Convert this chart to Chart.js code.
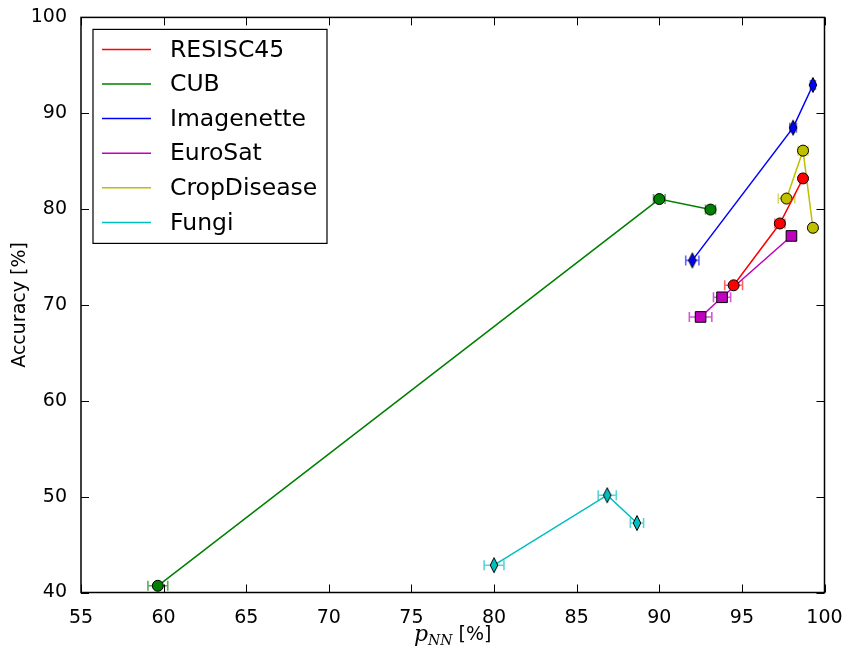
<!DOCTYPE html>
<html lang="en">
<head>
<meta charset="UTF-8">
<title>Accuracy vs pNN</title>
<script src="https://cdn.jsdelivr.net/npm/chart.js"></script>
<style>
    html, body { margin: 0; padding: 0; background: #fff; }
    #wrap { width: 849px; height: 653px; }
</style>
</head>
<body>
<div id="wrap"><canvas id="chart" width="849" height="653"></canvas></div>
<script>
// values: x = pNN [%], y = accuracy [%], xerr = half width of error bar
const resiscX = [94.5, 97.3, 98.7];
const resiscY = [72.05, 78.5, 83.2];
const resiscErr = [0.54, 0.3, 0.2];

const cubX = [59.65, 90.0, 93.1];
const cubY = [40.7, 81.05, 79.95];
const cubErr = [0.6, 0.35, 0.3];

const imagenetteX = [92.0, 98.1, 99.3];
const imagenetteY = [74.65, 88.5, 92.95];
const imagenetteErr = [0.4, 0.2, 0.15];

const eurosatX = [92.5, 93.8, 98.0];
const eurosatY = [68.75, 70.8, 77.2];
const eurosatErr = [0.68, 0.52, 0.2];

const cropX = [97.7, 98.7, 99.3];
const cropY = [81.1, 86.1, 78.05];
const cropErr = [0.5, 0.3, 0.2];

const fungiX = [80.0, 86.85, 88.65];
const fungiY = [42.85, 50.15, 47.25];
const fungiErr = [0.6, 0.55, 0.4];

const xTicks = [55, 60, 65, 70, 75, 80, 85, 90, 95, 100];
const yTicks = [40, 50, 60, 70, 80, 90, 100];

const FONT = "'DejaVu Sans', sans-serif";

// thin diamond marker (matplotlib 'd')
function thinDiamond(color) {
    const c = document.createElement('canvas');
    c.width = 10; c.height = 18;
    const g = c.getContext('2d');
    g.beginPath();
    g.moveTo(5, 1.5); g.lineTo(8.8, 9); g.lineTo(5, 16.5); g.lineTo(1.2, 9); g.closePath();
    g.fillStyle = color; g.fill();
    g.lineWidth = 1; g.strokeStyle = '#000'; g.stroke();
    return c;
}

function pts(xs, ys) {
    return xs.map((x, i) => ({ x: x, y: ys[i] }));
}

function series(label, xs, ys, errs, color, errColor, marker) {
    const ds = {
        label: label,
        data: pts(xs, ys),
        xErr: errs,
        errColor: errColor,
        showLine: true,
        borderColor: color,
        borderWidth: 1.5,
        pointBackgroundColor: color,
        pointBorderColor: '#000',
        pointBorderWidth: 1,
        pointRadius: 5.5,
        pointHoverRadius: 5.5,
        pointStyle: 'circle'
    };
    if (marker === 'square') { ds.pointStyle = 'rect'; ds.pointRadius = 7.5; ds.pointHoverRadius = 7.5; }
    if (marker === 'diamond') { ds.pointStyle = thinDiamond(color); }
    return ds;
}

const datasets = [
    series('RESISC45', resiscX, resiscY, resiscErr, '#ff0000', 'rgba(255,0,0,0.6)', 'circle'),
    series('CUB', cubX, cubY, cubErr, '#008000', 'rgba(0,128,0,0.65)', 'circle'),
    series('Imagenette', imagenetteX, imagenetteY, imagenetteErr, '#0000ff', 'rgba(0,0,255,0.6)', 'diamond'),
    series('EuroSat', eurosatX, eurosatY, eurosatErr, '#bf00bf', 'rgba(191,0,191,0.65)', 'square'),
    series('CropDisease', cropX, cropY, cropErr, '#bfbf00', 'rgba(191,191,0,0.6)', 'circle'),
    series('Fungi', fungiX, fungiY, fungiErr, '#00bfbf', 'rgba(0,191,191,0.65)', 'diamond')
];

// horizontal error bars with caps, under the markers
const errorBars = {
    id: 'errorBars',
    beforeDatasetsDraw(chart) {
        const ctx = chart.ctx;
        const xs = chart.scales.x, ys = chart.scales.y;
        ctx.save();
        ctx.lineWidth = 1.6;
        chart.data.datasets.forEach(ds => {
            ctx.strokeStyle = ds.errColor;
            ds.data.forEach((p, i) => {
                const e = ds.xErr[i];
                const x0 = xs.getPixelForValue(p.x - e);
                const x1 = xs.getPixelForValue(p.x + e);
                const y = ys.getPixelForValue(p.y);
                ctx.beginPath();
                ctx.moveTo(x0, y); ctx.lineTo(x1, y);
                ctx.moveTo(x0, y - 5); ctx.lineTo(x0, y + 5);
                ctx.moveTo(x1, y - 5); ctx.lineTo(x1, y + 5);
                ctx.stroke();
            });
        });
        ctx.restore();
    }
};

// frame, inward ticks, legend box and axis titles in matplotlib style
const frame = {
    id: 'frame',
    afterDraw(chart) {
        const ctx = chart.ctx;
        const a = chart.chartArea;
        const xs = chart.scales.x, ys = chart.scales.y;
        ctx.save();
        ctx.strokeStyle = '#000';
        ctx.lineWidth = 1.5;
        ctx.strokeRect(a.left, a.top, a.right - a.left, a.bottom - a.top);

        ctx.lineWidth = 1;
        ctx.beginPath();
        xTicks.forEach(v => {
            const x = Math.round(xs.getPixelForValue(v)) + 0.5;
            ctx.moveTo(x, a.bottom); ctx.lineTo(x, a.bottom - 8);
            ctx.moveTo(x, a.top); ctx.lineTo(x, a.top + 8);
        });
        yTicks.forEach(v => {
            const y = Math.round(ys.getPixelForValue(v)) + 0.5;
            ctx.moveTo(a.left, y); ctx.lineTo(a.left + 8, y);
            ctx.moveTo(a.right, y); ctx.lineTo(a.right - 8, y);
        });
        ctx.stroke();

        // legend
        const lx = a.left + 12, ly = a.top + 12, lw = 234, lh = 214;
        ctx.fillStyle = '#fff';
        ctx.fillRect(lx, ly, lw, lh);
        ctx.lineWidth = 1.2;
        ctx.strokeStyle = '#000';
        ctx.strokeRect(lx, ly, lw, lh);
        ctx.font = '23.5px ' + FONT;
        ctx.textBaseline = 'middle';
        ctx.textAlign = 'left';
        chart.data.datasets.forEach((ds, i) => {
            const y = ly + 20 + i * 34.6;
            ctx.strokeStyle = ds.borderColor;
            ctx.lineWidth = 1.5;
            ctx.beginPath();
            ctx.moveTo(lx + 9, y); ctx.lineTo(lx + 58, y);
            ctx.stroke();
            ctx.fillStyle = '#000';
            ctx.fillText(ds.label, lx + 77, y + 1);
        });

        // x title: p_NN [%]
        const cx = (a.left + a.right) / 2;
        const by = 641;
        ctx.fillStyle = '#000';
        ctx.textBaseline = 'alphabetic';
        ctx.font = "italic 22px 'DejaVu Serif', serif";
        const wp = ctx.measureText('p').width;
        ctx.font = "italic 14px 'DejaVu Serif', serif";
        const wn = ctx.measureText('NN').width;
        ctx.font = '19px ' + FONT;
        const wr = ctx.measureText(' [%]').width;
        let x = cx - (wp + wn + wr) / 2;
        ctx.font = "italic 22px 'DejaVu Serif', serif";
        ctx.fillText('p', x, by); x += wp;
        ctx.font = "italic 14px 'DejaVu Serif', serif";
        ctx.fillText('NN', x, by + 4); x += wn;
        ctx.font = '19px ' + FONT;
        ctx.fillText(' [%]', x, by - 1);

        // y title
        ctx.translate(20, (a.top + a.bottom) / 2);
        ctx.rotate(-Math.PI / 2);
        ctx.textAlign = 'center';
        ctx.textBaseline = 'middle';
        ctx.fillText('Accuracy [%]', 0, 0);
        ctx.restore();
    }
};

new Chart(document.getElementById('chart').getContext('2d'), {
    type: 'scatter',
    data: { datasets: datasets },
    options: {
        responsive: false,
        animation: false,
        layout: { padding: { top: 16, right: 24.5, left: 0, bottom: 0 } },
        plugins: { legend: { display: false }, tooltip: { enabled: false } },
        scales: {
            x: {
                type: 'linear', min: 55, max: 100,
                afterBuildTicks: s => { s.ticks = xTicks.map(v => ({ value: v })); },
                afterFit: s => { s.height = 60.5; },
                grid: { display: false },
                border: { display: false },
                ticks: { color: '#000', font: { family: FONT, size: 19 }, padding: 6, maxRotation: 0 }
            },
            y: {
                type: 'linear', min: 40, max: 100,
                afterBuildTicks: s => { s.ticks = yTicks.map(v => ({ value: v })); },
                afterFit: s => { s.width = 81; },
                grid: { display: false },
                border: { display: false },
                ticks: { color: '#000', font: { family: FONT, size: 19 }, padding: 6 }
            }
        }
    },
    plugins: [errorBars, frame]
});
</script>
</body>
</html>
